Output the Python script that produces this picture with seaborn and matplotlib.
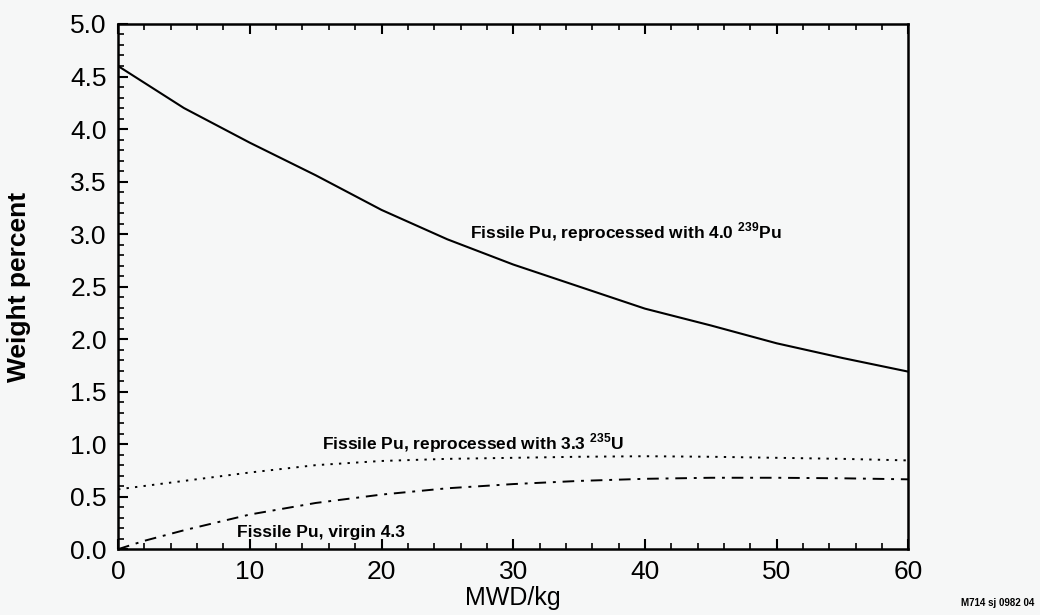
import pandas as pd
import matplotlib
matplotlib.use("Agg")
import matplotlib.pyplot as plt
from matplotlib.ticker import MultipleLocator
import seaborn as sns

# -----------------------------
# Data
# -----------------------------
burnup = [0, 5, 10, 15, 20, 25, 30, 35, 40, 45, 50, 55, 60]
pu_reprocessed_pu = [4.60, 4.20, 3.87, 3.56, 3.23, 2.95, 2.71, 2.50, 2.29, 2.13, 1.96, 1.82, 1.69]
pu_reprocessed_u = [0.57, 0.65, 0.73, 0.80, 0.84, 0.86, 0.87, 0.88, 0.885, 0.88, 0.87, 0.86, 0.845]
burnup_virgin = [0, 2, 5, 10, 15, 20, 25, 30, 35, 40, 45, 50, 55, 60]
pu_virgin = [0.0, 0.08, 0.18, 0.33, 0.44, 0.52, 0.58, 0.62, 0.65, 0.67, 0.68, 0.68, 0.675, 0.665]

label_pu = r"Fissile Pu, reprocessed with 4.0 $^{\mathbf{239}}$Pu"
label_u = r"Fissile Pu, reprocessed with 3.3 $^{\mathbf{235}}$U"
label_virgin = "Fissile Pu, virgin 4.3"

sns.set_theme(style="ticks", rc={"text.color": "black", "axes.labelcolor": "black",
                                 "xtick.color": "black", "ytick.color": "black"})
plt.rcParams["font.family"] = ["Liberation Sans", "DejaVu Sans"]
plt.rcParams["mathtext.fontset"] = "custom"
plt.rcParams["mathtext.rm"] = "Liberation Sans"
plt.rcParams["mathtext.bf"] = "Liberation Sans:bold"

bg = "#f6f7f7"
fig = plt.figure(figsize=(10.4, 6.15), dpi=100, facecolor=bg)
ax = fig.add_axes([0.1135, 0.107, 0.760, 0.854], facecolor=bg)

df_pu = pd.DataFrame({"MWD/kg": burnup, "wt": pu_reprocessed_pu})
df_u = pd.DataFrame({"MWD/kg": burnup, "wt": pu_reprocessed_u})
df_v = pd.DataFrame({"MWD/kg": burnup_virgin, "wt": pu_virgin})

sns.lineplot(data=df_pu, x="MWD/kg", y="wt", ax=ax, color="black", linewidth=1.5)
sns.lineplot(data=df_u, x="MWD/kg", y="wt", ax=ax, color="black", linewidth=1.4,
             linestyle=(0, (1.2, 3.2)))
sns.lineplot(data=df_v, x="MWD/kg", y="wt", ax=ax, color="black", linewidth=1.4,
             linestyle=(0, (6, 3.5, 1.5, 3.5)))

ax.set_xlim(0, 60)
ax.set_ylim(0, 5.0)
ax.xaxis.set_major_locator(MultipleLocator(10))
ax.xaxis.set_minor_locator(MultipleLocator(2))
ax.yaxis.set_major_locator(MultipleLocator(0.5))
ax.yaxis.set_minor_locator(MultipleLocator(0.1))
ax.yaxis.set_major_formatter(plt.FormatStrFormatter("%.1f"))

ax.tick_params(which="both", direction="in", top=True, right=False,
               color="black", labelcolor="black")
ax.tick_params(which="major", length=7, width=1.5, labelsize=19, pad=8)
ax.tick_params(which="minor", length=4, width=1.2)
for s in ax.spines.values():
    s.set_linewidth(1.8)
    s.set_color("black")

ax.set_xlabel("MWD/kg", fontsize=18, labelpad=1)
ax.set_ylabel("Weight percent", fontsize=19, fontweight="bold", labelpad=28)

txt_family = ["Liberation Sans Narrow", "Liberation Sans", "DejaVu Sans"]
ax.text(26.7, 3.02, label_pu, fontsize=12.5, fontweight="bold", family=txt_family, va="center")
ax.text(15.5, 1.01, label_u, fontsize=12.5, fontweight="bold", family=txt_family, va="center")
ax.text(9.0, 0.16, label_virgin, fontsize=12.5, fontweight="bold", family=txt_family, va="center")

fig.text(0.995, 0.012, "M714 sj 0982 04", fontsize=7, fontweight="bold",
         family=txt_family, ha="right", va="bottom")

fig.savefig("out.png", dpi=100, facecolor=bg)
